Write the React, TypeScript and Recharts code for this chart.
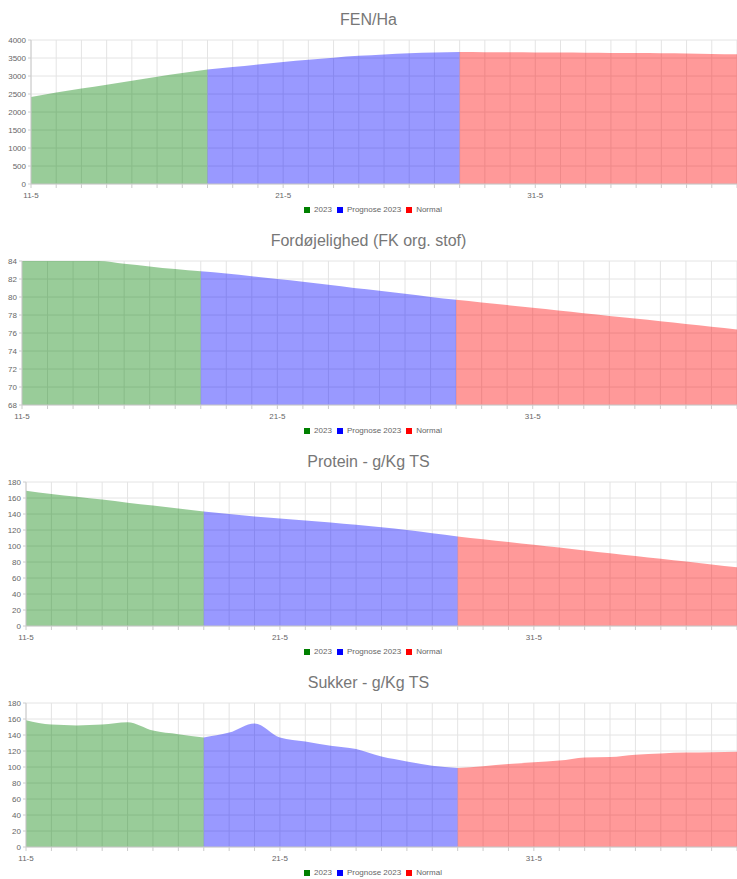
import React from 'react';
import { AreaChart, Area, XAxis, YAxis, CartesianGrid, Legend } from 'recharts';

const dates = [
  '11-5', '12-5', '13-5', '14-5', '15-5', '16-5', '17-5', '18-5', '19-5', '20-5',
  '21-5', '22-5', '23-5', '24-5', '25-5', '26-5', '27-5', '28-5', '29-5', '30-5',
  '31-5', '1-6', '2-6', '3-6', '4-6', '5-6', '6-6', '7-6', '8-6',
];
const labelledDates = ['11-5', '21-5', '31-5'];
const seriesNames = ['2023', 'Prognose 2023', 'Normal'];
const seriesColors = ['green', 'blue', 'red'];

// FEN/Ha
const fen2023 = [2420, 2540, 2650, 2760, 2870, 2980, 3080, 3180];
const fenPrognose = [3180, 3250, 3320, 3390, 3450, 3510, 3560, 3600, 3630, 3650, 3665];
const fenNormal = [3665, 3663, 3660, 3656, 3652, 3647, 3642, 3636, 3629, 3622, 3614, 3605];

// Fordøjelighed
const fk2023 = [84, 84, 84, 84, 83.7, 83.4, 83.1, 82.85];
const fkPrognose = [82.85, 82.6, 82.3, 82.0, 81.7, 81.35, 81.0, 80.7, 80.35, 80.0, 79.7];
const fkNormal = [79.7, 79.4, 79.1, 78.8, 78.5, 78.2, 77.9, 77.6, 77.3, 77.0, 76.7, 76.4];

// Protein
const protein2023 = [169, 165, 161.5, 158, 154, 150.5, 147, 143];
const proteinPrognose = [143, 140, 137, 134.5, 132, 129.5, 126.5, 123.5, 120, 116, 112];
const proteinNormal = [112, 108.5, 105, 101.5, 98, 94.5, 91, 87.5, 84, 80.5, 77, 73.5];

// Sukker
const sukker2023 = [158.5, 153, 152, 153, 156, 145.5, 141, 137];
const sukkerPrognose = [137, 143, 154.5, 137, 132, 126.7, 122.5, 113, 107, 101.7, 98.8];
const sukkerNormal = [98.8, 101, 103.7, 106, 108, 112, 112.5, 115.4, 117, 118, 118.5, 119];

const PROGNOSE_START = 7;
const NORMAL_START = 17;

const buildRows = (actual: number[], prognose: number[], normal: number[]) =>
  dates.map((date, i) => ({
    date,
    '2023': i < actual.length ? actual[i] : null,
    'Prognose 2023': i >= PROGNOSE_START && i - PROGNOSE_START < prognose.length ? prognose[i - PROGNOSE_START] : null,
    Normal: i >= NORMAL_START ? normal[i - NORMAL_START] : null,
  }));

const font = '"Liberation Sans", Arial, sans-serif';

const DateTick = ({ x, y, payload }: any) => {
  if (!labelledDates.includes(payload.value)) return <g />;
  return (
    <text x={x} y={y + 8} textAnchor="middle" fontSize={8} fill="#666" fontFamily={font}>
      {payload.value}
    </text>
  );
};

// keeps the series order (the default legend sorts by name)
const SeriesLegend = () => (
  <div style={{ display: 'flex', justifyContent: 'center', alignItems: 'center', paddingTop: 3, fontSize: 8, fontFamily: font, color: '#666' }}>
    {seriesNames.map((name, i) => (
      <span key={name} style={{ display: 'flex', alignItems: 'center', marginRight: 5 }}>
        <span style={{ display: 'inline-block', width: 6, height: 6, background: seriesColors[i], marginRight: 4 }} />
        {name}
      </span>
    ))}
  </div>
);

interface PanelProps {
  title: string;
  data: any[];
  domain: [number, number];
  ticks: number[];
  yWidth: number;
}

const Panel: React.FC<PanelProps> = ({ title, data, domain, ticks, yWidth }) => (
  <div style={{ position: 'relative', width: 737, height: 221 }}>
    <div
      style={{
        position: 'absolute', top: 11, left: 0, width: 737, textAlign: 'center',
        fontSize: 16, color: '#777', fontFamily: font, zIndex: 1,
      }}
    >
      {title}
    </div>
    <AreaChart width={737} height={221} data={data} margin={{ top: 40, right: 0, left: 0, bottom: 3 }}>
      <CartesianGrid stroke="#e4e4e4" />
      <XAxis
        dataKey="date"
        interval={0}
        tick={<DateTick />}
        tickSize={4}
        height={18}
        stroke="#ccc"
      />
      <YAxis
        domain={domain}
        ticks={ticks}
        interval={0}
        width={yWidth}
        tickSize={3}
        stroke="#ccc"
        tick={{ fill: '#666', fontSize: 8, fontFamily: font }}
      />
      <Legend verticalAlign="bottom" height={16} wrapperStyle={{ left: 7 }} content={<SeriesLegend />} />
      <Area type="monotone" dataKey={seriesNames[0]} stroke="none" fill={seriesColors[0]} fillOpacity={0.4} isAnimationActive={false} activeDot={false} />
      <Area type="monotone" dataKey={seriesNames[1]} stroke="none" fill={seriesColors[1]} fillOpacity={0.4} isAnimationActive={false} activeDot={false} />
      <Area type="monotone" dataKey={seriesNames[2]} stroke="none" fill={seriesColors[2]} fillOpacity={0.4} isAnimationActive={false} activeDot={false} />
    </AreaChart>
  </div>
);

const App: React.FC = () => (
  <div style={{ position: 'absolute', left: 0, top: 0, width: 737, height: 879, overflow: 'hidden', background: '#fff' }}>
    <Panel
      title="FEN/Ha"
      data={buildRows(fen2023, fenPrognose, fenNormal)}
      domain={[0, 4000]}
      ticks={[0, 500, 1000, 1500, 2000, 2500, 3000, 3500, 4000]}
      yWidth={31}
    />
    <Panel
      title="Fordøjelighed (FK org. stof)"
      data={buildRows(fk2023, fkPrognose, fkNormal)}
      domain={[68, 84]}
      ticks={[68, 70, 72, 74, 76, 78, 80, 82, 84]}
      yWidth={22}
    />
    <Panel
      title="Protein - g/Kg TS"
      data={buildRows(protein2023, proteinPrognose, proteinNormal)}
      domain={[0, 180]}
      ticks={[0, 20, 40, 60, 80, 100, 120, 140, 160, 180]}
      yWidth={26}
    />
    <Panel
      title="Sukker - g/Kg TS"
      data={buildRows(sukker2023, sukkerPrognose, sukkerNormal)}
      domain={[0, 180]}
      ticks={[0, 20, 40, 60, 80, 100, 120, 140, 160, 180]}
      yWidth={26}
    />
  </div>
);

export default App;
